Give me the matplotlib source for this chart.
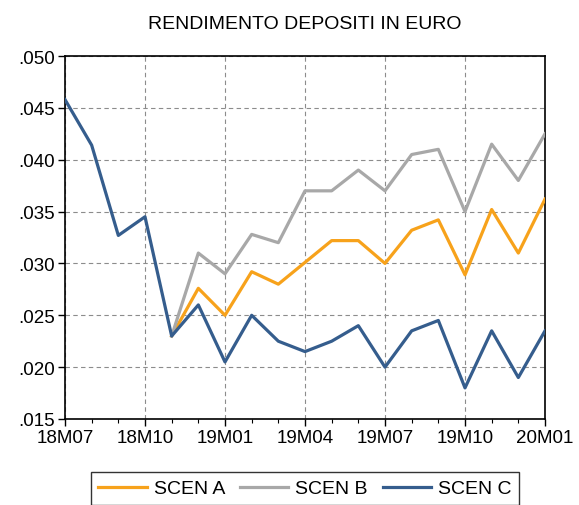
import matplotlib
matplotlib.use('Agg')
import matplotlib.pyplot as plt
import numpy as np

plt.rcParams['font.family'] = ['Liberation Sans', 'DejaVu Sans']

# monthly periods 18M07 .. 20M01
months = ['18M07', '18M08', '18M09', '18M10', '18M11', '18M12',
          '19M01', '19M02', '19M03', '19M04', '19M05', '19M06',
          '19M07', '19M08', '19M09', '19M10', '19M11', '19M12', '20M01']

scen_a = [np.nan, np.nan, np.nan, np.nan, 0.0230, 0.0276, 0.0250, 0.0292, 0.0280, 0.0301,
          0.0322, 0.0322, 0.0300, 0.0332, 0.0342, 0.0289, 0.0352, 0.0310, 0.0362]
scen_b = [np.nan, np.nan, np.nan, np.nan, 0.0230, 0.0310, 0.0290, 0.0328, 0.0320, 0.0370,
          0.0370, 0.0390, 0.0370, 0.0405, 0.0410, 0.0350, 0.0415, 0.0380, 0.0425]
scen_c = [0.0458, 0.0414, 0.0327, 0.0345, 0.0230, 0.0260, 0.0205, 0.0250, 0.0225, 0.0215,
          0.0225, 0.0240, 0.0200, 0.0235, 0.0245, 0.0180, 0.0235, 0.0190, 0.0235]

fig = plt.figure(figsize=(5.79, 5.06), dpi=100)
ax = fig.add_axes([65/579, 1 - 420/506, 480/579, 363/506])

x = np.arange(len(months))
ax.plot(x, scen_a, color='#F7A21B', lw=2.3, label='SCEN A', zorder=3)
ax.plot(x, scen_b, color='#A8A8A8', lw=2.3, label='SCEN B', zorder=3)
ax.plot(x, scen_c, color='#355D8D', lw=2.3, label='SCEN C', zorder=4)

ax.set_xlim(0, len(months) - 1)
ax.set_ylim(0.015, 0.050)

major = x[::3]
ax.set_xticks(major)
ax.set_xticklabels([months[i] for i in major])
ax.set_xticks(x, minor=True)
yt = np.arange(0.015, 0.0501, 0.005)
ax.set_yticks(yt)
ax.set_yticklabels(['.%03d' % round(v * 1000) for v in yt])

ax.tick_params(axis='both', which='major', direction='out', length=5, width=1,
               labelsize=13.5, colors='black')
ax.tick_params(axis='x', which='minor', direction='out', length=3, width=0.8)
ax.tick_params(axis='x', pad=2)
ax.tick_params(axis='y', pad=2)

ax.grid(True, which='major', color='#8C8C8C', linestyle=(0, (4, 3)), lw=0.8)
for s in ax.spines.values():
    s.set_linewidth(1.2)
    s.set_color('black')

ax.set_title('RENDIMENTO DEPOSITI IN EURO', fontsize=14, pad=20)

leg = ax.legend(loc='upper center', ncol=3, bbox_to_anchor=(305/579, 1 - 473/506),
                bbox_transform=fig.transFigure, frameon=True, fancybox=False,
                fontsize=14, handlelength=2.5, columnspacing=0.75, handletextpad=0.36,
                borderpad=0.4, borderaxespad=0, edgecolor='black')
leg.get_frame().set_linewidth(1.0)

fig.savefig('out.png', dpi=100)
